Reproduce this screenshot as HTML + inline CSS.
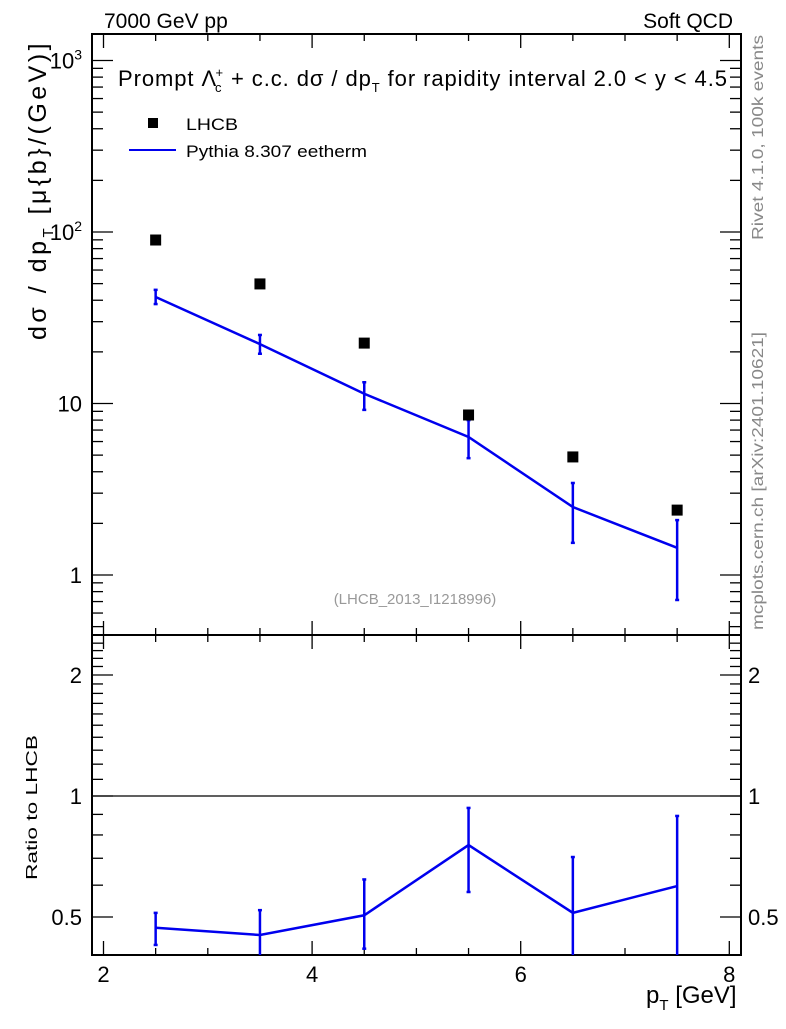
<!DOCTYPE html>
<html><head><meta charset="utf-8"><style>
body{margin:0;background:#fff}
svg text{font-family:"Liberation Sans",sans-serif}
</style></head><body>
<svg id="c" width="786" height="1024" xmlns="http://www.w3.org/2000/svg">
<text x="104" y="28" font-size="21">7000 GeV pp</text>
<text x="733" y="28" font-size="21" text-anchor="end">Soft QCD</text>
<text x="118" y="86" font-size="22" textLength="609" lengthAdjust="spacing">Prompt Λ<tspan font-size="13" dy="6" dx="-2">c</tspan><tspan font-size="13" dy="-15" dx="-7">+</tspan><tspan dy="9"> + c.c.  dσ / dp</tspan><tspan font-size="13" dy="6">T</tspan><tspan dy="-6"> for rapidity interval 2.0 &lt; y &lt; 4.5</tspan></text>
<text transform="translate(46,340) rotate(-90)" font-size="25" letter-spacing="3.5">dσ / dp<tspan font-size="15" dy="7">T</tspan><tspan dy="-7"> [μ{b}/(GeV)]</tspan></text>
<text transform="translate(37,880) rotate(-90)" font-size="16" textLength="145" lengthAdjust="spacingAndGlyphs">Ratio to LHCB</text>
<text x="646" y="1003" font-size="24">p<tspan font-size="15" dy="7">T</tspan><tspan dy="-7"> [GeV]</tspan></text>
<text transform="translate(763,240) rotate(-90)" font-size="16" fill="#888" textLength="205" lengthAdjust="spacingAndGlyphs">Rivet 4.1.0,  100k events</text>
<text transform="translate(763,630) rotate(-90)" font-size="16" fill="#888" textLength="298" lengthAdjust="spacingAndGlyphs">mcplots.cern.ch [arXiv:2401.10621]</text>
<text x="415" y="604" font-size="15" fill="#999" text-anchor="middle">(LHCB_2013_I1218996)</text>
<rect x="148" y="118" width="10" height="10" fill="#000"/>
<text x="186" y="130" font-size="17" textLength="52" lengthAdjust="spacingAndGlyphs">LHCB</text>
<line x1="129" y1="150" x2="176" y2="150" stroke="#0000ee" stroke-width="2"/>
<text x="186" y="157" font-size="17" textLength="181" lengthAdjust="spacingAndGlyphs">Pythia 8.307 eetherm</text>
</svg>
<script>
const xVals=[2.5,3.5,4.5,5.5,6.5,7.5];
const lhcb=[89.8,49.8,22.5,8.57,4.88,2.39];
const pythia=[41.8,22.2,11.4,6.38,2.49,1.44];
const pythiaUp=[46.0,25.1,13.3,8.0,3.44,2.09];
const pythiaDn=[38.0,19.5,9.18,4.8,1.54,0.715];
const ratio=[0.47,0.451,0.505,0.755,0.512,0.597];
const ratioUp=[0.512,0.52,0.62,0.934,0.705,0.892];
const ratioDn=[0.426,0.3,0.417,0.577,0.3,0.3];
const xTicks=[2,4,6,8];
const yTicks=[1,10,100,1000];
const rTicks=[0.5,1,2];
const svg=document.getElementById('c');const NS='http://www.w3.org/2000/svg';
function mk(t,a,p){const e=document.createElementNS(NS,t);for(const k in a)e.setAttribute(k,a[k]);(p||svg).appendChild(e);return e;}
const L=92,R=741,T=34,M=635,B=955;
const X=v=>103.5+(v-2)*104.3;
const Y=v=>575-Math.log10(v)*171.5;
const RY=v=>796-Math.log2(v)*121;
let f=mk('rect',{x:L,y:T,width:R-L,height:M-T,fill:'none',stroke:'#000','stroke-width':2});


f=mk('rect',{x:L,y:M,width:R-L,height:B-M,fill:'none',stroke:'#000','stroke-width':2});


for(let v=2;v<=8.001;v+=0.5){const maj=Math.abs(v-Math.round(v/2)*2)<1e-6;const len=maj?14:7;
 for(const [y0,d] of [[M,-1],[T,1],[B,-1],[M,1]]){mk('line',{x1:X(v),x2:X(v),y1:y0,y2:y0+d*len,stroke:'#000','stroke-width':1.3});}}
xTicks.forEach(v=>{const t=mk('text',{x:X(v),y:982,'font-size':22,'text-anchor':'middle'});t.textContent=v;
 
 });
for(let d=-1;d<=3;d++)for(let m=1;m<10;m++){const v=m*Math.pow(10,d);const y=Y(v);if(y<T||y>M)continue;const len=m==1?21:11;
 mk('line',{x1:L,x2:L+len,y1:y,y2:y,stroke:'#000','stroke-width':1.3});mk('line',{x1:R,x2:R-len,y1:y,y2:y,stroke:'#000','stroke-width':1.3});}
const yl=['1','10','10','10'];
yTicks.forEach((v,i)=>{const t=mk('text',{x:82,y:Y(v)+8,'font-size':22,'text-anchor':'end'});
 t.textContent=yl[i];if(i>=2){const s=mk('tspan',{'font-size':14,dy:-9},t);s.textContent=i==2?'2':'3';}
 
 });
for(let v=0.4;v<=2.5;v+=0.1){const y=RY(v);if(y<M||y>B)continue;const maj=[0.5,1,2].some(a=>Math.abs(a-v)<1e-6);const len=maj?21:11;
 mk('line',{x1:L,x2:L+len,y1:y,y2:y,stroke:'#000','stroke-width':1.3});mk('line',{x1:R,x2:R-len,y1:y,y2:y,stroke:'#000','stroke-width':1.3});}
rTicks.forEach(v=>{for(const [x,a] of [[82,'end'],[748,'start']]){const t=mk('text',{x:x,y:RY(v)+8,'font-size':22,'text-anchor':a});t.textContent=v;
 
 }});
mk('line',{x1:L,x2:R,y1:RY(1),y2:RY(1),stroke:'#000','stroke-width':1.3});
const pl=mk('polyline',{points:xVals.map((x,i)=>X(x)+','+Y(pythia[i])).join(' '),fill:'none',stroke:'#0000ee','stroke-width':2.5});


xVals.forEach((x,i)=>{const g=mk('g',{stroke:'#0000ee','stroke-width':2.5});
 
 
 mk('line',{x1:X(x),x2:X(x),y1:Y(pythiaUp[i]),y2:Y(pythiaDn[i])},g);
 mk('line',{x1:X(x)-2,x2:X(x)+2,y1:Y(pythiaUp[i]),y2:Y(pythiaUp[i])},g);
 mk('line',{x1:X(x)-2,x2:X(x)+2,y1:Y(pythiaDn[i]),y2:Y(pythiaDn[i])},g);});
xVals.forEach((x,i)=>{const r=mk('rect',{x:X(x)-5.5,y:Y(lhcb[i])-5.5,width:11,height:11,fill:'#000'});
 
 });
const rl=mk('polyline',{points:xVals.map((x,i)=>X(x)+','+RY(ratio[i])).join(' '),fill:'none',stroke:'#0000ee','stroke-width':2.5});


xVals.forEach((x,i)=>{const g=mk('g',{stroke:'#0000ee','stroke-width':2.5});
 
 
 const yu=RY(ratioUp[i]),yd=Math.min(RY(ratioDn[i]),B);
 mk('line',{x1:X(x),x2:X(x),y1:yu,y2:yd},g);
 mk('line',{x1:X(x)-2,x2:X(x)+2,y1:yu,y2:yu},g);
 if(yd<B)mk('line',{x1:X(x)-2,x2:X(x)+2,y1:yd,y2:yd},g);});
</script>
</body></html>
